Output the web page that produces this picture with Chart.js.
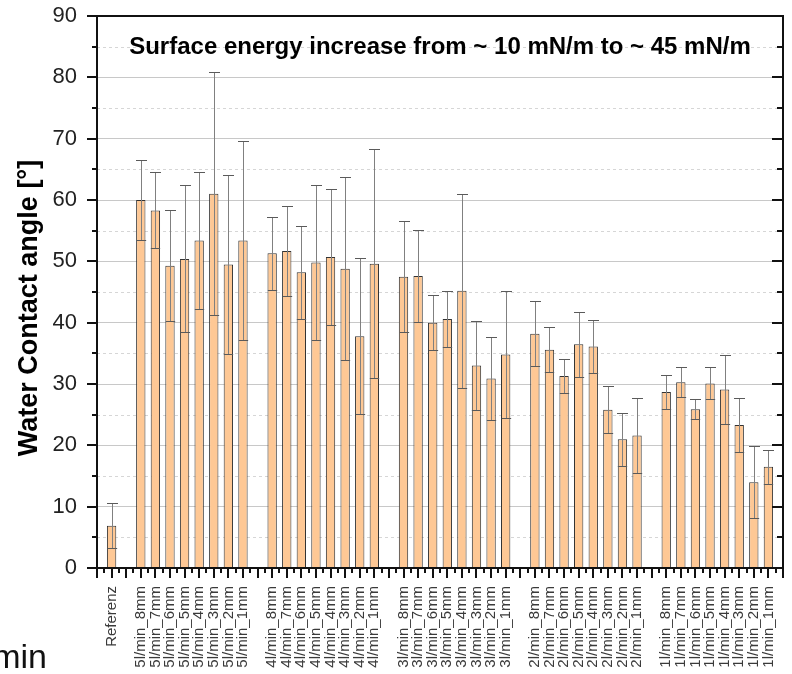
<!DOCTYPE html>
<html>
<head>
<meta charset="utf-8">
<script src="https://cdn.jsdelivr.net/npm/chart.js@4.4.1/dist/chart.umd.min.js"></script>
<style>
  html, body { margin: 0; padding: 0; background: #fff; }
  #wrap { position: relative; width: 792px; height: 674px; }
</style>
</head>
<body>
<div id="wrap">
  <canvas id="chart"></canvas>
</div>
<script>
const FONT = "'Liberation Sans', Arial, sans-serif";

const flows = ['5l/min', '4l/min', '3l/min', '2l/min', '1l/min'];
const nozzles = ['8mm', '7mm', '6mm', '5mm', '4mm', '3mm', '2mm', '1mm'];

const refMean = 6.9;
const refSd = 3.7;

const mean5 = [60.0, 58.3, 49.3, 50.4, 53.4, 61.0, 49.5, 53.4];
const sd5 = [6.6, 6.2, 9.1, 12.0, 11.1, 19.8, 14.6, 16.3];
const mean4 = [51.3, 51.7, 48.2, 49.8, 50.7, 48.8, 37.8, 49.6];
const sd4 = [6.0, 7.3, 7.6, 12.6, 11.1, 14.9, 12.7, 18.7];
const mean3 = [47.5, 47.6, 40.0, 40.6, 45.2, 33.0, 30.9, 34.8];
const sd3 = [9.1, 7.5, 4.5, 4.6, 15.8, 7.3, 6.8, 10.3];
const mean2 = [38.2, 35.6, 31.3, 36.5, 36.1, 25.8, 21.0, 21.6];
const sd2 = [5.3, 3.7, 2.8, 5.3, 4.3, 3.8, 4.3, 6.1];
const mean1 = [28.7, 30.3, 25.9, 30.1, 29.1, 23.3, 14.0, 16.5];
const sd1 = [2.7, 2.4, 1.6, 2.6, 5.7, 4.4, 5.9, 2.8];

const yTicks = [0, 10, 20, 30, 40, 50, 60, 70, 80, 90];
const titleText = 'Surface energy increase from ~ 10 mN/m to ~ 45 mN/m';
const yTitle = 'Water Contact angle [°]';
const cutText = 'min';

// build category list with empty slots between the groups
const groupMeans = [mean5, mean4, mean3, mean2, mean1];
const groupSds = [sd5, sd4, sd3, sd2, sd1];
const labels = ['', 'Referenz'];
const means = [null, refMean];
const sds = [null, refSd];
flows.forEach((f, g) => {
  labels.push('');
  means.push(null);
  sds.push(null);
  nozzles.forEach((n, k) => {
    labels.push(f + '_' + n);
    means.push(groupMeans[g][k]);
    sds.push(groupSds[g][k]);
  });
});
labels.push('');
means.push(null);
sds.push(null);

const decor = {
  id: 'decor',
  beforeDatasetsDraw(chart) {
    const { ctx, chartArea: a, scales: { y } } = chart;
    ctx.save();
    ctx.strokeStyle = '#d6d6d6';
    ctx.lineWidth = 1;
    ctx.setLineDash([3, 3]);
    for (let v = y.min + 5; v < y.max; v += 10) {
      const py = Math.round(y.getPixelForValue(v)) + 0.5;
      ctx.beginPath();
      ctx.moveTo(a.left, py);
      ctx.lineTo(a.right, py);
      ctx.stroke();
    }
    ctx.restore();
  },
  afterDatasetsDraw(chart) {
    const { ctx, scales: { y } } = chart;
    const meta = chart.getDatasetMeta(0);
    ctx.save();
    ctx.lineWidth = 1;
    meta.data.forEach((el, i) => {
      const m = means[i];
      if (m == null) return;
      const s = sds[i];
      const x = Math.round(el.x) + 0.5;
      const top = Math.round(y.getPixelForValue(m + s)) + 0.5;
      const bot = Math.round(y.getPixelForValue(m - s)) + 0.5;
      const hw = el.width / 2;
      ctx.strokeStyle = '#808080';
      ctx.beginPath();
      ctx.moveTo(x, bot);
      ctx.lineTo(x, top);
      ctx.stroke();
      ctx.strokeStyle = '#5a5a5a';
      ctx.beginPath();
      ctx.moveTo(x - 5.5, top);
      ctx.lineTo(x + 5.5, top);
      ctx.moveTo(x - hw, bot);
      ctx.lineTo(x + hw, bot);
      ctx.stroke();
    });
    ctx.restore();
  },
  afterDraw(chart) {
    const { ctx, chartArea: a, scales: { x, y } } = chart;
    ctx.save();
    ctx.strokeStyle = '#111';
    // y ticks: outward on the left, inward on the right
    ctx.lineWidth = 2;
    for (let v = y.min; v <= y.max; v += 5) {
      const py = Math.round(y.getPixelForValue(v));
      const major = v % 10 === 0;
      const len = major ? 10 : 5;
      ctx.beginPath();
      ctx.moveTo(a.left - len, py);
      ctx.lineTo(a.left, py);
      ctx.moveTo(a.right, py);
      ctx.lineTo(a.right - (major ? 11 : 6), py);
      ctx.stroke();
    }
    // x ticks: one per category, minor half way between
    for (let i = 0; i < labels.length; i++) {
      const px = Math.round(x.getPixelForValue(i));
      ctx.beginPath();
      ctx.moveTo(px, a.bottom);
      ctx.lineTo(px, a.bottom + 10);
      ctx.stroke();
      if (i < labels.length - 1) {
        const mx = Math.round((x.getPixelForValue(i) + x.getPixelForValue(i + 1)) / 2);
        ctx.beginPath();
        ctx.moveTo(mx, a.bottom);
        ctx.lineTo(mx, a.bottom + 5);
        ctx.stroke();
      }
    }
    // frame
    ctx.strokeRect(a.left, a.top, a.right - a.left, a.bottom - a.top);

    // text inside the plot
    ctx.fillStyle = '#000';
    ctx.font = 'bold 24px ' + FONT;
    ctx.textAlign = 'center';
    ctx.textBaseline = 'middle';
    ctx.fillText(titleText, (a.left + a.right) / 2, 47);

    // leftover text at the bottom left
    ctx.font = '34px ' + FONT;
    ctx.textAlign = 'right';
    ctx.textBaseline = 'alphabetic';
    ctx.fillStyle = '#111';
    ctx.fillText(cutText, 47, 668);

    // y axis title
    ctx.fillStyle = '#000';
    ctx.textAlign = 'center';
    ctx.textBaseline = 'middle';
    ctx.translate(30, 308);
    ctx.rotate(-Math.PI / 2);
    ctx.font = 'bold 27px ' + FONT;
    ctx.fillText(yTitle, 0, 0);
    ctx.restore();
  }
};

new Chart(document.getElementById('chart'), {
  type: 'bar',
  data: {
    labels: labels,
    datasets: [{
      data: means,
      backgroundColor: '#fec895',
      borderColor: '#333',
      borderWidth: 1,
      borderSkipped: 'bottom',
      categoryPercentage: 1,
      barPercentage: 0.64,
    }],
  },
  options: {
    responsive: true,
    maintainAspectRatio: false,
    animation: false,
    layout: { padding: { top: 16, right: 9, left: 0, bottom: 0 } },
    plugins: { legend: { display: false }, tooltip: { enabled: false } },
    scales: {
      x: {
        offset: false,
        grid: { display: false, drawTicks: false },
        border: { display: false },
        ticks: {
          autoSkip: false,
          maxRotation: 90,
          minRotation: 90,
          padding: 18,
          color: '#3a3a3a',
          font: { family: FONT, size: 15 },
        },
        afterFit(scale) {
          scale.height = 106;
          scale.paddingLeft = 0;
          scale.paddingRight = 0;
        },
      },
      y: {
        min: 0,
        max: 90,
        afterBuildTicks(scale) { scale.ticks = yTicks.map((v) => ({ value: v })); },
        grid: { color: '#c8c8c8', lineWidth: 1, drawTicks: false },
        border: { display: false },
        ticks: {
          padding: 20,
          color: '#222',
          font: { family: FONT, size: 22 },
        },
        afterFit(scale) {
          scale.width = 97;
          scale.paddingTop = 0;
          scale.paddingBottom = 0;
        },
      },
    },
  },
  plugins: [decor],
});
</script>
</body>
</html>
